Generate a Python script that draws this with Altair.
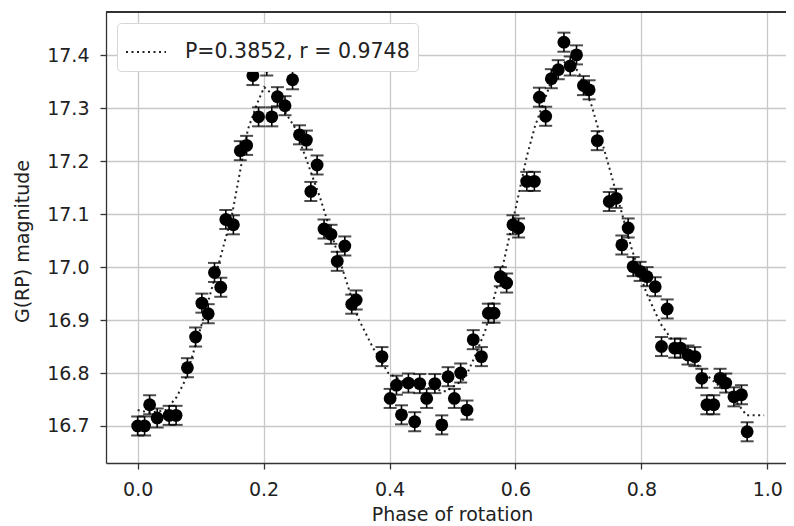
import altair as alt
import pandas as pd

# Observed photometry (phase, G(RP) magnitude)
PHASE = [0.000, 0.011, 0.019, 0.031, 0.050, 0.061, 0.079, 0.092, 0.102, 0.112,
         0.122, 0.132, 0.140, 0.152, 0.163, 0.173, 0.183, 0.192, 0.205, 0.213,
         0.222, 0.234, 0.246, 0.257, 0.268, 0.275, 0.285, 0.296, 0.307, 0.317,
         0.329, 0.340, 0.347, 0.388, 0.401, 0.411, 0.419, 0.430, 0.440, 0.448,
         0.459, 0.472, 0.483, 0.493, 0.503, 0.513, 0.523, 0.533, 0.546, 0.557,
         0.566, 0.576, 0.586, 0.596, 0.605, 0.618, 0.630, 0.638, 0.648, 0.657,
         0.668, 0.677, 0.687, 0.697, 0.708, 0.717, 0.730, 0.749, 0.760, 0.769,
         0.779, 0.787, 0.798, 0.809, 0.822, 0.832, 0.841, 0.853, 0.862, 0.874,
         0.885, 0.896, 0.904, 0.915, 0.925, 0.934, 0.947, 0.959, 0.968]
MAG = [16.700, 16.700, 16.740, 16.715, 16.720, 16.720, 16.810, 16.868, 16.932, 16.912,
       16.990, 16.962, 17.090, 17.080, 17.220, 17.230, 17.362, 17.284, 17.380, 17.284,
       17.322, 17.305, 17.354, 17.250, 17.240, 17.143, 17.193, 17.072, 17.062, 17.011,
       17.040, 16.930, 16.938, 16.831, 16.752, 16.777, 16.721, 16.781, 16.708, 16.780,
       16.752, 16.780, 16.702, 16.793, 16.752, 16.800, 16.730, 16.863, 16.831, 16.913,
       16.913, 16.982, 16.970, 17.080, 17.074, 17.162, 17.162, 17.321, 17.285, 17.356,
       17.373, 17.425, 17.380, 17.401, 17.343, 17.335, 17.239, 17.124, 17.130, 17.042,
       17.074, 17.001, 16.992, 16.982, 16.963, 16.850, 16.921, 16.847, 16.847, 16.834,
       16.831, 16.790, 16.740, 16.740, 16.790, 16.781, 16.755, 16.759, 16.689]
MAG_ERR = 0.018

# Model curve (dotted)
CURVE_X = [0.0, 0.02, 0.045, 0.062, 0.075, 0.10, 0.125, 0.15, 0.175, 0.19,
           0.201, 0.22, 0.25, 0.29, 0.327, 0.35, 0.374, 0.398, 0.43, 0.46,
           0.49, 0.52, 0.535, 0.552, 0.568, 0.581, 0.602, 0.618, 0.631, 0.655,
           0.68, 0.70, 0.721, 0.729, 0.75, 0.785, 0.808, 0.83, 0.85, 0.875,
           0.90, 0.925, 0.945, 0.967, 0.995]
CURVE_Y = [16.73, 16.725, 16.73, 16.755, 16.785, 16.885, 16.99, 17.10, 17.26, 17.31,
           17.34, 17.32, 17.263, 17.13, 16.99, 16.904, 16.847, 16.80, 16.778, 16.772,
           16.765, 16.79, 16.83, 16.88, 16.951, 17.008, 17.12, 17.209, 17.266, 17.345,
           17.39, 17.37, 17.305, 17.272, 17.184, 17.033, 16.951, 16.894, 16.86, 16.835,
           16.80, 16.774, 16.755, 16.72, 16.72]
LEGEND_LABEL = "P=0.3852, r = 0.9748"

X_TICKS = [0.0, 0.2, 0.4, 0.6, 0.8, 1.0]
Y_TICKS = [16.7, 16.8, 16.9, 17.0, 17.1, 17.2, 17.3, 17.4]
X_DOMAIN = [-0.0503, 1.0297]
Y_DOMAIN = [16.630, 17.482]

pts = pd.DataFrame({"phase": PHASE, "mag": MAG})
pts["lo"] = pts["mag"] - MAG_ERR
pts["hi"] = pts["mag"] + MAG_ERR
curve = pd.DataFrame({"phase": CURVE_X, "mag": CURVE_Y, "label": LEGEND_LABEL})

FONT = "DejaVu Sans"
TXT = "#222222"

xs = alt.Scale(domain=X_DOMAIN, nice=False, zero=False)
ys = alt.Scale(domain=Y_DOMAIN, nice=False, zero=False)

x_axis = alt.Axis(values=X_TICKS, format=".1f", title="Phase of rotation",
                  titleX=346, titleY=57, titleBaseline="alphabetic",
                  labelBaseline="alphabetic", labelPadding=26, tickSize=6)
y_axis = alt.Axis(values=Y_TICKS, format=".1f", title="G(RP) magnitude",
                  titleX=-78, titleY=229, titleBaseline="alphabetic",
                  labelPadding=11, tickSize=6)

line = alt.Chart(curve).mark_line(color="#222222", strokeWidth=2).encode(
    x=alt.X("phase:Q", scale=xs, axis=x_axis),
    y=alt.Y("mag:Q", scale=ys, axis=y_axis),
    strokeDash=alt.StrokeDash(
        "label:N",
        scale=alt.Scale(range=[[2, 3.5]]),
        legend=alt.Legend(
            title=None, orient="top-left", offset=11, padding=8,
            fillColor="white", strokeColor="#d6d6d6", cornerRadius=4,
            symbolType="stroke", symbolSize=1600, symbolStrokeWidth=2,
            symbolStrokeColor="#222222", labelFontSize=20.5, labelFont=FONT,
            labelColor=TXT, labelOffset=18, labelLimit=0,
        ),
    ),
)

bars = alt.Chart(pts).mark_rule(color="black", strokeWidth=1.6).encode(
    x=alt.X("phase:Q", scale=xs), y=alt.Y("lo:Q", scale=ys), y2="hi:Q"
)
cap_lo = alt.Chart(pts).mark_tick(color="black", orient="horizontal", size=13, thickness=2).encode(
    x=alt.X("phase:Q", scale=xs), y=alt.Y("lo:Q", scale=ys)
)
cap_hi = alt.Chart(pts).mark_tick(color="black", orient="horizontal", size=13, thickness=2).encode(
    x=alt.X("phase:Q", scale=xs), y=alt.Y("hi:Q", scale=ys)
)
dots = alt.Chart(pts).mark_circle(color="black", opacity=1, size=165).encode(
    x=alt.X("phase:Q", scale=xs), y=alt.Y("mag:Q", scale=ys)
)
top = alt.Chart(pts).mark_rule(color="#333333", strokeWidth=1.3).encode(
    y=alt.YDatum(Y_DOMAIN[1])
)

chart = alt.layer(line, bars, cap_lo, cap_hi, dots, top).properties(
    width=680, height=451, autosize="none",
    padding={"left": 98, "top": 4, "right": 0, "bottom": 62},
).configure_view(stroke=None).configure_axis(
    labelFont=FONT, titleFont=FONT, labelFontSize=19, titleFontSize=19,
    labelColor=TXT, titleColor=TXT, titleFontWeight="normal",
    gridColor="#c8c8c8", gridWidth=1.3, domainColor="#333333", domainWidth=1.3,
    tickColor="#333333", tickWidth=1.3,
)

chart.save("out.html", embed_options={"renderer": "svg", "actions": False})
